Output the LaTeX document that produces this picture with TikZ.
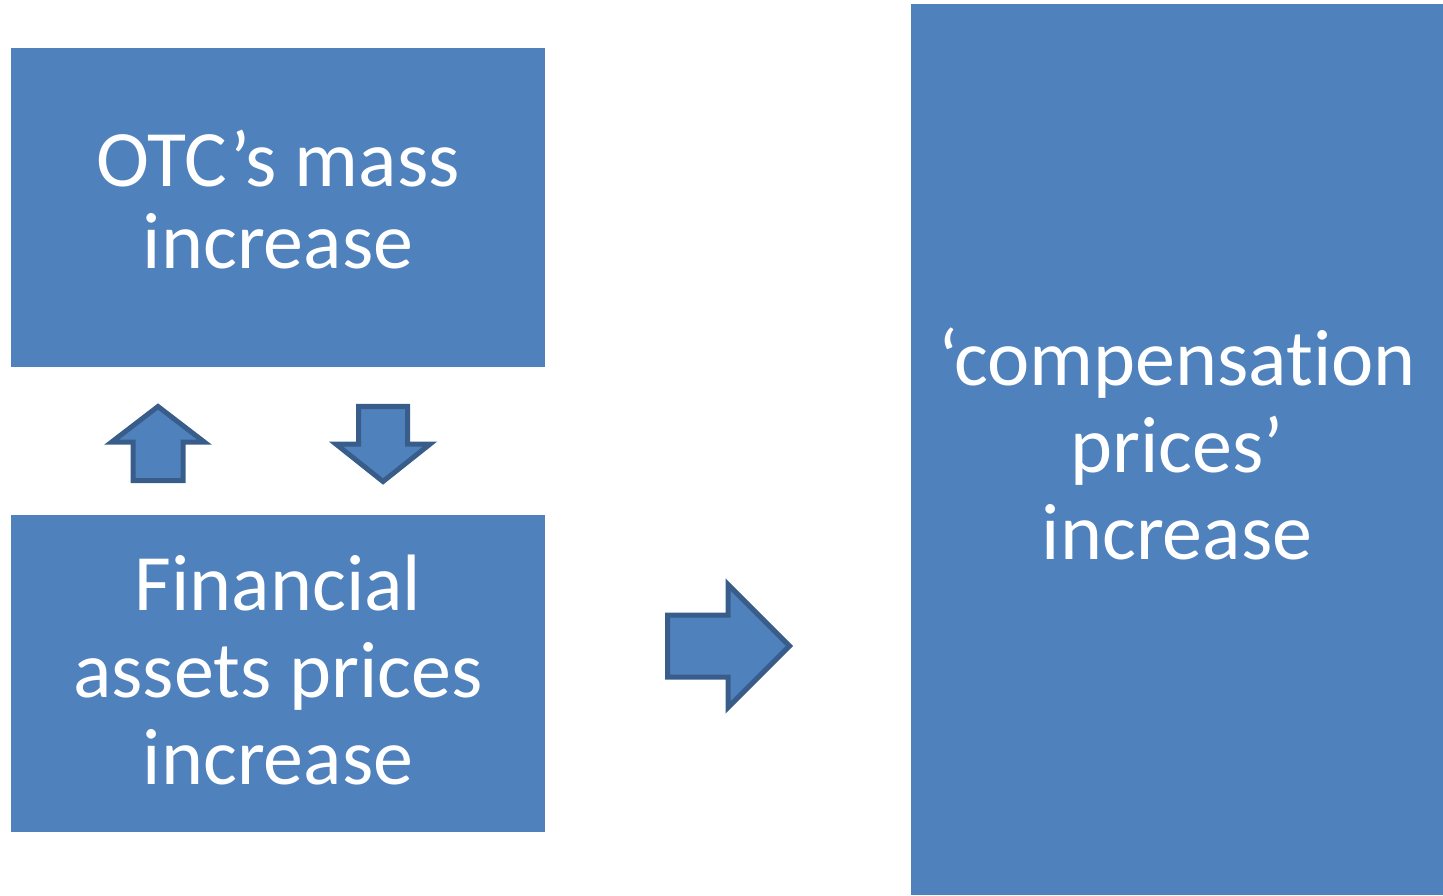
\documentclass[tikz,border=0pt]{standalone}
\usepackage{fontspec}
\setmainfont{Carlito}[Ligatures=NoCommon]
\usetikzlibrary{positioning,shapes.arrows}

\definecolor{boxBlue}{HTML}{4F81BD}
\definecolor{arrowEdge}{HTML}{385D8A}

\begin{document}
\begin{tikzpicture}

  \tikzstyle{block} = [fill=boxBlue, rectangle, inner sep=0pt]
  \tikzstyle{blockText} = [text=white, align=center, inner sep=0pt, font={\fontsize{40pt}{43.5pt}\selectfont}]
  \tikzstyle{blockArrow} = [single arrow, draw=arrowEdge, line width=2.5pt, fill=boxBlue, outer sep=0pt, anchor=tail];

  \useasboundingbox (0,0) rectangle (721.5pt,447.5pt);

  \node[block, name=otc, minimum width=267pt, minimum height=159.5pt] at (139pt,343.75pt) {};
  \node[block, name=financial, minimum width=267pt, minimum height=158.5pt, below=73.5pt of otc] {};
  \node[block, name=compensation, minimum width=266pt, minimum height=445.5pt] at (588.5pt,222.75pt) {};

  \node[blockText, name=otcText, yshift=4pt, font={\fontsize{40pt}{41pt}\selectfont}] at (otc.center) {OTC’s mass\\increase};
  \node[blockText, name=financialText, yshift=1.5pt] at (financial.center) {Financial\\assets prices\\increase};
  \node[blockText, name=compensationText, yshift=3pt] at (compensation.center) {‘compensation\\prices’\\increase};

  % Up and down arrows between the two left boxes
  \node[blockArrow, name=upArrow, shape border rotate=90, inner sep=11.25pt, minimum height=37pt, minimum width=44pt, single arrow head extend=10.75pt, single arrow tip angle=105] at (79pt,207.25pt) {};
  \node[blockArrow, name=downArrow, shape border rotate=270, inner sep=11pt, minimum height=37.5pt, minimum width=44.5pt, single arrow head extend=11.25pt, single arrow tip angle=103] at (191.5pt,244.25pt) {};

  % Arrow towards the compensation box
  \node[blockArrow, name=rightArrow, inner xsep=0pt, inner ysep=14.25pt, minimum height=61pt, minimum width=59pt, single arrow head extend=15.25pt, single arrow tip angle=90] at (333.75pt,124.5pt) {};

\end{tikzpicture}
\end{document}
